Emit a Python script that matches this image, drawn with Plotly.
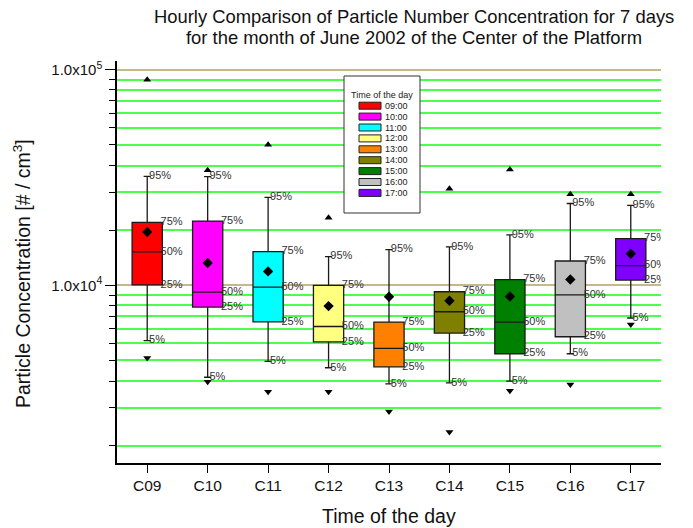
import math
import plotly.graph_objects as go

# ---------------- data ----------------
categories = ["C09", "C10", "C11", "C12", "C13", "C14", "C15", "C16", "C17"]
legend_labels = ["09:00", "10:00", "11:00", "12:00", "13:00", "14:00", "15:00", "16:00", "17:00"]
box_colors = ["#FF0000", "#FF00FF", "#00FFFF", "#FFFF80", "#FF8000",
              "#808000", "#008000", "#C0C0C0", "#8000FF"]

p_max = [90000, 34200, 45000, 20600, None, 28100, 34500, 26500, 26500]
p95 = [32100, 32000, 25600, 13600, 14650, 15100, 17150, 24000, 23500]
p75 = [19600, 19900, 14340, 10000, 6760, 9350, 10630, 12980, 16480]
p50 = [14300, 9320, 9830, 6450, 5100, 7550, 6760, 9050, 12350]
p25 = [10050, 7940, 6780, 5475, 4190, 6010, 4820, 5780, 10590]
p5 = [5540, 3750, 4440, 4150, 3495, 3530, 3600, 4820, 7060]
p_min = [4600, 3570, 3210, 3210, 2600, 2090, 3250, 3470, 6590]
means = [17700, 12700, 11620, 8020, 8860, 8490, 8890, 10660, 14040]

major_ticks = [1e4, 1e5]
major_labels = ["1.0x10<sup>4</sup>", "1.0x10<sup>5</sup>"]
minor_ticks = [1800, 2700, 3600, 4500, 5400, 6300, 7200, 8100, 9000,
               18000, 27000, 36000, 45000, 54000, 63000, 72000, 81000, 90000]

# ---------------- figure ----------------
W, H = 693, 528
ML, MR, MT, MB = 117, 32, 61, 65
PW, PH = W - ML - MR, H - MT - MB
FONT = "Liberation Sans, Arial, sans-serif"

fig = go.Figure()
xs = list(range(len(categories)))
BOXW = 0.5
WHISK = 0.24

for i, c in enumerate(categories):
    fig.add_trace(go.Box(
        x=[i], q1=[p25[i]], median=[p50[i]], q3=[p75[i]],
        lowerfence=[p5[i]], upperfence=[p95[i]],
        width=BOXW, whiskerwidth=WHISK,
        fillcolor=box_colors[i],
        line=dict(color="#1a1a1a", width=1.3),
        boxpoints=False, showlegend=False, hoverinfo="skip",
    ))

# mean diamonds
fig.add_trace(go.Scatter(x=xs, y=means, mode="markers",
                         marker=dict(symbol="diamond", size=8, color="black"),
                         showlegend=False, hoverinfo="skip"))
# max / min markers
mx_x = [i for i in xs if p_max[i] is not None]
fig.add_trace(go.Scatter(x=mx_x, y=[p_max[i] for i in mx_x], mode="markers",
                         marker=dict(symbol="triangle-up", size=7, color="black"),
                         showlegend=False, hoverinfo="skip"))
fig.add_trace(go.Scatter(x=xs, y=p_min, mode="markers",
                         marker=dict(symbol="triangle-down", size=7, color="black"),
                         showlegend=False, hoverinfo="skip"))

# percentile labels
lab_font = dict(family=FONT, size=11, color="#333333")
cap_off = BOXW * WHISK / 2
for vals, txt, off in [(p95, "95%", cap_off), (p5, "5%", cap_off),
                       (p75, "75%", BOXW / 2), (p50, "50%", BOXW / 2), (p25, "25%", BOXW / 2)]:
    fig.add_trace(go.Scatter(
        x=[i + off - 0.03 for i in xs], y=vals, mode="text",
        text=[txt] * len(xs), textposition="middle right",
        textfont=lab_font, cliponaxis=True,
        showlegend=False, hoverinfo="skip"))

# ---------------- manual legend ----------------
def px2paper(px, py):
    return (px - ML) / PW, (H - MB - py) / PH

shapes = []
annotations = []
lx0, ly0 = px2paper(344, 76)
lx1, ly1 = px2paper(420, 213)
shapes.append(dict(type="rect", xref="paper", yref="paper", x0=lx0, y0=ly1, x1=lx1, y1=ly0,
                   fillcolor="white", line=dict(color="#333333", width=1), layer="above"))
tx, ty = px2paper(382, 94.5)
annotations.append(dict(xref="paper", yref="paper", x=tx, y=ty, text="Time of the day",
                        showarrow=False, xanchor="center", yanchor="middle",
                        font=dict(family=FONT, size=9, color="#222")))
for k, (lab, col) in enumerate(zip(legend_labels, box_colors)):
    cy = 105.7 + 10.9 * k
    sx0, sy0 = px2paper(359, cy - 3.5)
    sx1, sy1 = px2paper(381, cy + 3.5)
    shapes.append(dict(type="rect", xref="paper", yref="paper", x0=sx0, y0=sy1, x1=sx1, y1=sy0,
                       fillcolor=col, line=dict(color="#222222", width=1), layer="above"))
    ax_, ay_ = px2paper(383, cy)
    annotations.append(dict(xref="paper", yref="paper", x=ax_, y=ay_, text=lab,
                            showarrow=False, xanchor="left", yanchor="middle",
                            font=dict(family=FONT, size=9, color="#222")))

# titles
for line, cy in [("Hourly Comparison of Particle Number Concentration for 7 days", 16.5),
                 ("for the month of June 2002 of the Center of the Platform", 37.5)]:
    tx, ty = px2paper(413.5, cy)
    annotations.append(dict(xref="paper", yref="paper", x=tx, y=ty, text=line,
                            showarrow=False, xanchor="center", yanchor="middle",
                            font=dict(family=FONT, size=18.4, color="#111")))
xtx, xty = px2paper(389, 516)
annotations.append(dict(xref="paper", yref="paper", x=xtx, y=xty, text="Time of the day",
                        showarrow=False, xanchor="center", yanchor="middle",
                        font=dict(family=FONT, size=19.5, color="#111")))
yx, yy = px2paper(22, 274)
annotations.append(dict(xref="paper", yref="paper", x=yx, y=yy,
                        text="Particle Concentration [# / cm<sup>3</sup>]",
                        textangle=-90, showarrow=False, xanchor="center", yanchor="middle",
                        font=dict(family=FONT, size=19.5, color="#111")))

fig.update_layout(
    width=W, height=H,
    margin=dict(l=ML, r=MR, t=MT, b=MB, pad=0),
    paper_bgcolor="white", plot_bgcolor="white",
    font=dict(family=FONT, color="#111"),
    xaxis=dict(range=[-0.5, 8.5], tickmode="array", tickvals=xs, ticktext=categories,
               ticks="outside", ticklen=8, tickcolor="black", tickwidth=1.2,
               showline=True, linecolor="black", linewidth=1.5,
               showgrid=False, zeroline=False,
               tickfont=dict(size=15.5, color="#111")),
    yaxis=dict(type="log", range=[math.log10(1500), math.log10(110000)],
               tickmode="array", tickvals=major_ticks, ticktext=major_labels,
               ticks="outside", ticklen=10, tickcolor="black", tickwidth=1.2,
               showline=True, linecolor="black", linewidth=1.5,
               showgrid=True, gridcolor="#C4B98A", gridwidth=1.5, zeroline=False,
               tickfont=dict(size=15, color="#111"),
               minor=dict(tickmode="array", tickvals=minor_ticks, ticks="outside",
                          ticklen=6, tickcolor="black", tickwidth=1.2,
                          showgrid=True, gridcolor="#4CFF4C", gridwidth=1.5)),
    shapes=shapes, annotations=annotations,
)

fig.write_html("out.html", config={"displayModeBar": False},
               post_script="document.body.style.margin='0';")
